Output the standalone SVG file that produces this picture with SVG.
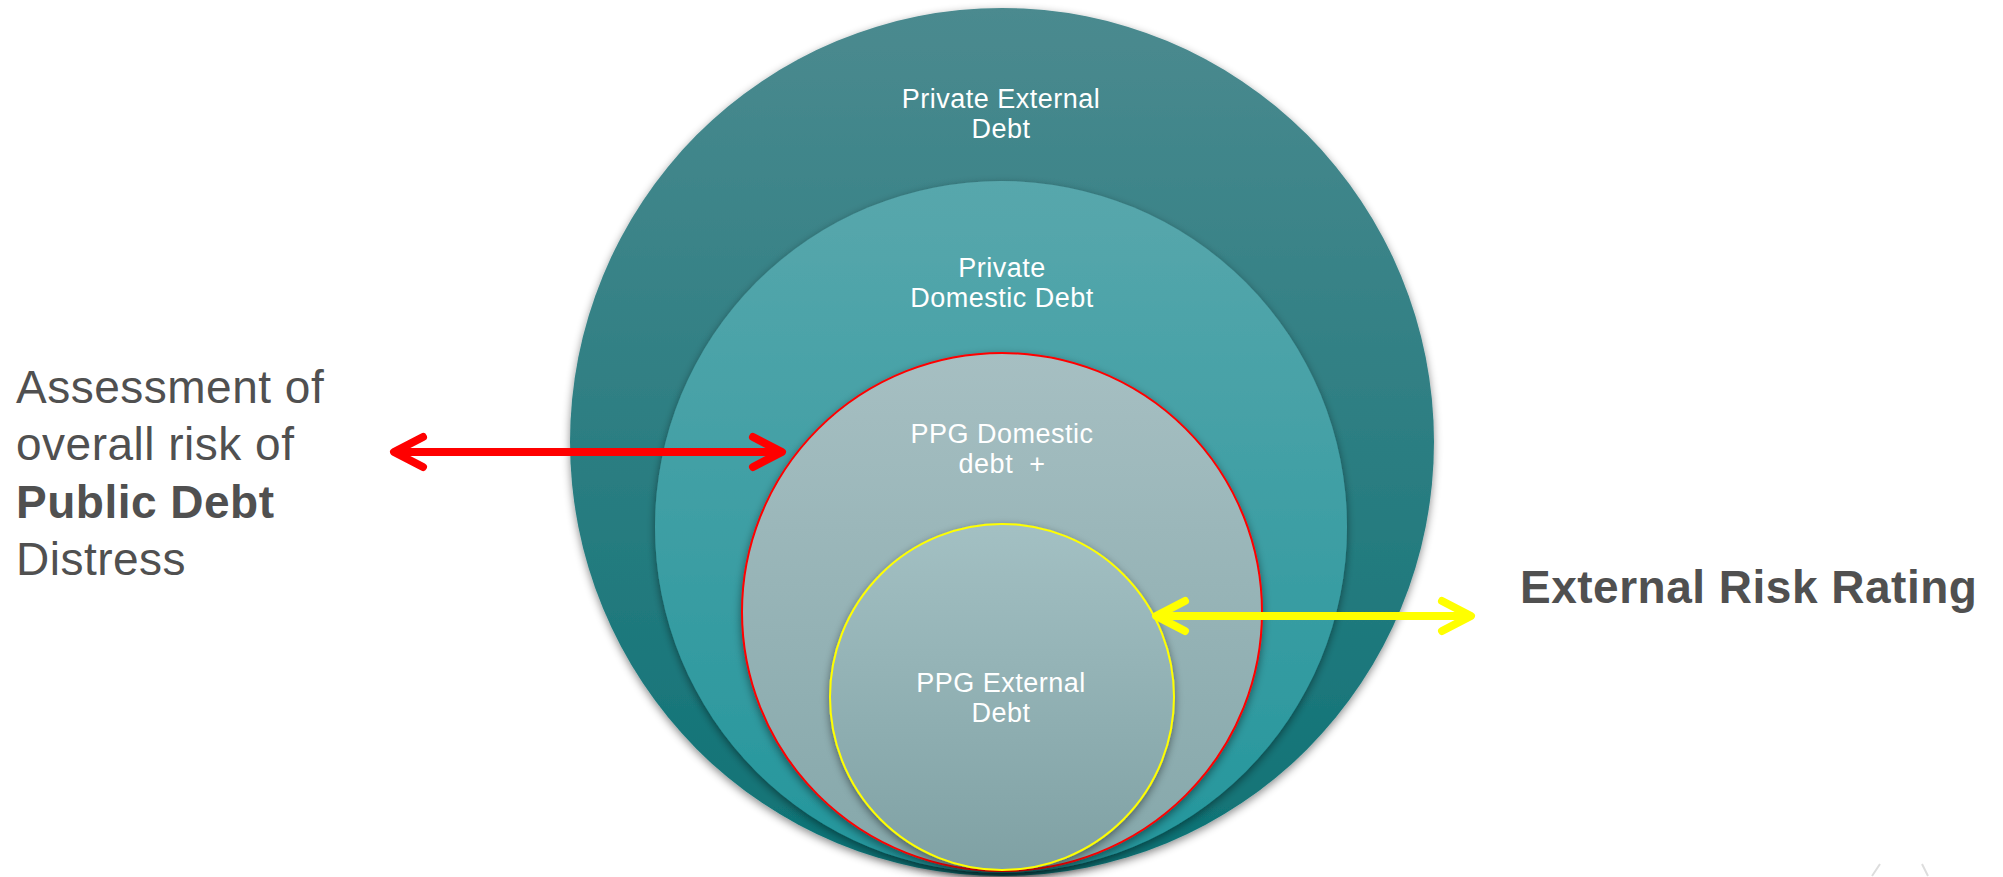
<svg xmlns="http://www.w3.org/2000/svg" width="2003" height="877" viewBox="0 0 2003 877">
<defs>
<linearGradient id="g1" x1="0" y1="0" x2="0" y2="1"><stop offset="0" stop-color="#4b8a8f"/><stop offset="1" stop-color="#0d7275"/></linearGradient>
<linearGradient id="g2" x1="0" y1="0" x2="0" y2="1"><stop offset="0" stop-color="#58a7ac"/><stop offset="1" stop-color="#23969c"/></linearGradient>
<linearGradient id="g3" x1="0" y1="0" x2="0" y2="1"><stop offset="0" stop-color="#a6bfc2"/><stop offset="1" stop-color="#85a7aa"/></linearGradient>
<linearGradient id="g4" x1="0" y1="0" x2="0" y2="1"><stop offset="0" stop-color="#a3c0c3"/><stop offset="1" stop-color="#7fa1a4"/></linearGradient>
<filter id="sh" x="-10%" y="-10%" width="120%" height="120%"><feDropShadow dx="0" dy="3" stdDeviation="4" flood-color="#000" flood-opacity="0.45"/></filter>
<style>
.lbl{font-family:"Liberation Sans",Arial,sans-serif;font-size:27px;fill:#ffffff;text-anchor:middle;letter-spacing:0.5px}
.side{font-family:"Liberation Sans",Arial,sans-serif;font-size:46px;fill:#505050;letter-spacing:0.5px}
.red{stroke:#ff0000;stroke-width:8;fill:none;stroke-linecap:round;stroke-linejoin:round}
.yel{stroke:#ffff00;stroke-width:8;fill:none;stroke-linecap:round;stroke-linejoin:round}
</style>
</defs>
<rect width="2003" height="877" fill="#ffffff"/>
<g id="private-external">
<ellipse cx="1002" cy="442" rx="432" ry="434" fill="url(#g1)" filter="url(#sh)"/>
<text class="lbl" x="1001" y="108">Private External</text>
<text class="lbl" x="1001" y="138">Debt</text>
</g>
<g id="private-domestic">
<ellipse cx="1001" cy="527" rx="346" ry="346" fill="url(#g2)" filter="url(#sh)"/>
<text class="lbl" x="1002" y="277">Private</text>
<text class="lbl" x="1002" y="307">Domestic Debt</text>
</g>
<g id="ppg-domestic">
<ellipse cx="1002" cy="612" rx="260" ry="259" fill="url(#g3)" stroke="#ff0000" stroke-width="2" filter="url(#sh)"/>
<text class="lbl" x="1002" y="443">PPG Domestic</text>
<text class="lbl" x="1002" y="473" xml:space="preserve">debt  +</text>
</g>
<g id="ppg-external">
<ellipse cx="1002" cy="697" rx="172" ry="173" fill="url(#g4)" stroke="#ffff00" stroke-width="2" filter="url(#sh)"/>
<text class="lbl" x="1001" y="692">PPG External</text>
<text class="lbl" x="1001" y="722">Debt</text>
</g>
<g id="public-debt-label">
<text class="side" x="16" y="403">Assessment of</text>
<text class="side" x="16" y="460">overall risk of</text>
<text class="side" x="16" y="518" font-weight="bold">Public Debt</text>
<text class="side" x="16" y="575">Distress</text>
</g>
<g id="external-risk-label">
<text class="side" x="1520" y="603" font-weight="bold">External Risk Rating</text>
</g>
<g id="connectors">
<path class="red" d="M396,452 H780 M423,437 L394,452 L423,467 M753,437 L782,452 L753,467"/>
<path class="yel" d="M1158,616 H1469 M1185,601 L1156,616 L1185,631 M1442,601 L1471,616 L1442,631"/>
</g>
<g id="corner-marks" stroke="#dddddd" stroke-width="2">
<line x1="1872" y1="876" x2="1880" y2="864"/>
<line x1="1922" y1="864" x2="1928" y2="876"/>
</g>
</svg>
